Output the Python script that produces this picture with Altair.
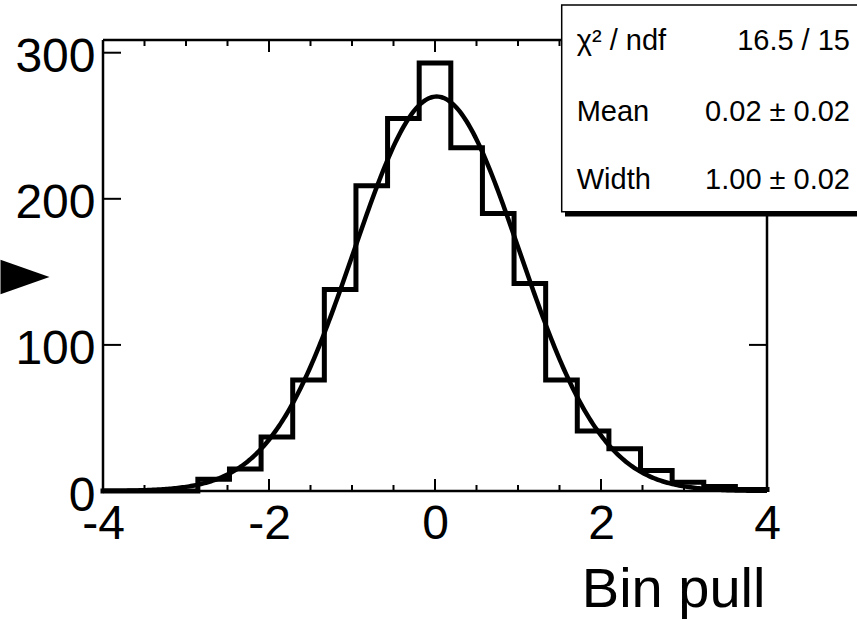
import altair as alt
import numpy as np
import pandas as pd

# ---------------- data ----------------
X_MIN, X_MAX, N_BINS = -4.0, 4.0, 21
bin_counts = [0, 0, 0, 8, 15, 37, 76, 138, 209, 255, 293, 235, 190, 142, 76, 41, 29, 14, 6, 3, 1]

# fit result shown in the stats box
FIT_NORM = 270.0
FIT_MEAN = 0.02
FIT_WIDTH = 1.00

x_major_ticks = [-4, -2, 0, 2, 4]
x_minor_ticks = [-3.5, -3, -2.5, -1.5, -1, -0.5, 0.5, 1, 1.5, 2.5, 3, 3.5]
y_major_ticks = [0, 100, 200, 300]
Y_MAX = 308.7

stat_labels = ["χ² / ndf", "Mean", "Width"]
stat_values = ["16.5 / 15", "0.02 ± 0.02", "1.00 ± 0.02"]
x_title = "Bin pull"

# ---------------- tables ----------------
edges = np.linspace(X_MIN, X_MAX, N_BINS + 1)
hist_df = pd.DataFrame({"x": edges, "n": bin_counts + [bin_counts[-1]]})
cx = np.linspace(X_MIN, X_MAX, 401)
curve_df = pd.DataFrame({"x": cx, "n": FIT_NORM * np.exp(-0.5 * ((cx - FIT_MEAN) / FIT_WIDTH) ** 2)})

W, H = 664, 451
FONT = "Liberation Sans"

xs = alt.Scale(domain=[X_MIN, X_MAX], nice=False, zero=False)
ys = alt.Scale(domain=[0, Y_MAX], nice=False, zero=False)

x_axis = alt.Axis(
    values=x_major_ticks, labelExpr="'' + datum.value", labelBaseline="alphabetic",
    labelPadding=47, labelFontSize=48, labelFont=FONT, labelColor="black",
    domain=False, ticks=False, tickSize=0, grid=False, labelFlush=False,
    title=x_title, titleFont=FONT, titleFontSize=56, titleFontWeight="normal", titleColor="black",
    titleX=662, titleY=115.5, titleAlign="right", titleBaseline="alphabetic", titleAnchor="end")
y_axis = alt.Axis(
    values=y_major_ticks, labelBaseline="alphabetic", labelOffset=19, labelPadding=8,
    labelFontSize=48, labelFont=FONT, labelColor="black", labelFlush=False,
    domain=False, ticks=False, tickSize=0, grid=False, title=None)


def X(field):
    return alt.X(field, scale=xs, axis=x_axis, title=x_title)


def Y(field):
    return alt.Y(field, scale=ys, axis=y_axis, title=None)


hist = alt.Chart(hist_df).mark_line(
    interpolate="step-after", color="black", strokeWidth=5, strokeJoin="miter", strokeCap="square"
).encode(x=X("x:Q"), y=Y("n:Q"))

curve = alt.Chart(curve_df).mark_line(color="black", strokeWidth=4.5).encode(x=X("x:Q"), y=Y("n:Q"))


def xticks(vals, length):
    df = pd.DataFrame({"x": vals})
    base = alt.Chart(df).mark_rule(color="black", strokeWidth=2)
    bot = base.encode(x=X("x:Q"), y=alt.value(H), y2=alt.value(H - length))
    top = base.encode(x=X("x:Q"), y=alt.value(0), y2=alt.value(length))
    return [bot, top]


def yticks(vals, length):
    df = pd.DataFrame({"n": vals})
    base = alt.Chart(df).mark_rule(color="black", strokeWidth=2)
    left = base.encode(y=Y("n:Q"), x=alt.value(0), x2=alt.value(length))
    right = base.encode(y=Y("n:Q"), x=alt.value(W), x2=alt.value(W - length))
    return [left, right]


one = pd.DataFrame({"k": [0]})
frame = [
    alt.Chart(one).mark_rule(color="black", strokeWidth=2.5).encode(x=alt.value(0), x2=alt.value(W), y=alt.value(0)),
    alt.Chart(one).mark_rule(color="black", strokeWidth=2.5).encode(x=alt.value(0), x2=alt.value(W), y=alt.value(H)),
    alt.Chart(one).mark_rule(color="black", strokeWidth=2.5).encode(x=alt.value(0), y=alt.value(0), y2=alt.value(H)),
    alt.Chart(one).mark_rule(color="black", strokeWidth=2.5).encode(x=alt.value(W), y=alt.value(0), y2=alt.value(H)),
]

shadow = alt.Chart(one).mark_rect(color="black").encode(
    x=alt.value(462), x2=alt.value(830), y=alt.value(-31), y2=alt.value(176.5))
box = alt.Chart(one).mark_rect(fill="white", stroke="black", strokeWidth=1.5).encode(
    x=alt.value(458.7), x2=alt.value(820), y=alt.value(-35), y2=alt.value(171.7))

row_baselines = [10, 80.7, 149.3]
texts = []
for lab, val, yb in zip(stat_labels, stat_values, row_baselines):
    texts.append(alt.Chart(pd.DataFrame({"t": [lab]})).mark_text(
        font=FONT, fontSize=29, align="left", baseline="alphabetic", color="black"
    ).encode(text="t:N", x=alt.value(473.7), y=alt.value(yb)))
    texts.append(alt.Chart(pd.DataFrame({"t": [val]})).mark_text(
        font=FONT, fontSize=29, align="right", baseline="alphabetic", color="black"
    ).encode(text="t:N", x=alt.value(747), y=alt.value(yb)))

arrow = alt.Chart(one).mark_point(
    shape="M -1 -0.7 L 1 0 L -1 0.7 Z", filled=True, color="black", opacity=1, size=49 * 49
).encode(x=alt.value(-78), y=alt.value(237))

layers = [hist, curve] + xticks(x_major_ticks, 12) + xticks(x_minor_ticks, 6) + yticks(y_major_ticks, 18) \
    + frame + [shadow, box] + texts + [arrow]

chart = alt.layer(*layers).properties(
    width=W, height=H,
    autosize=alt.AutoSizeParams(type="none"),
    padding={"left": 103, "top": 40, "right": 90, "bottom": 129},
    background="white",
).configure_view(stroke=None)

chart.save("out.html", embed_options={"renderer": "svg", "actions": False})
